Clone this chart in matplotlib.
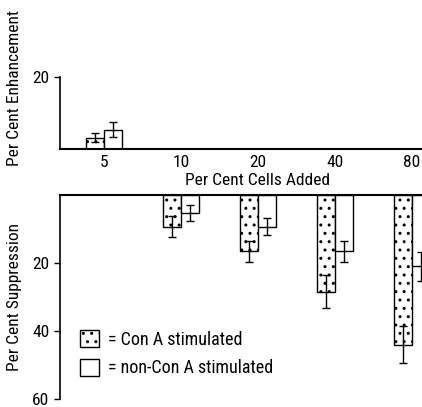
import numpy as np
import matplotlib
matplotlib.use("Agg")
import matplotlib.pyplot as plt
from matplotlib.patches import Patch

plt.rcParams['font.family'] = ['Liberation Sans Narrow', 'Roboto Condensed', 'DejaVu Sans']
plt.rcParams['font.stretch'] = 'condensed'
plt.rcParams['hatch.linewidth'] = 1.0

# per cent cells added (categories)
groups = ['5', '10', '20', '40', '80']

# enhancement (top panel), only at 5%
enh_con = [3.1, np.nan, np.nan, np.nan, np.nan]
enh_con_err = [1.2, np.nan, np.nan, np.nan, np.nan]
enh_non = [5.3, np.nan, np.nan, np.nan, np.nan]
enh_non_err = [2.1, np.nan, np.nan, np.nan, np.nan]

# suppression (bottom panel)
sup_con = [np.nan, 9.4, 16.6, 28.4, 44.0]
sup_con_err = [np.nan, 3.1, 3.2, 4.9, 5.4]
sup_non = [np.nan, 5.2, 9.4, 16.6, 21.0]
sup_non_err = [np.nan, 2.4, 2.5, 3.1, 4.2]

x = np.arange(len(groups))
w = 0.235
xlim = (-0.57, 4.13)
fs = 12.5

fig = plt.figure(figsize=(4.22, 4.07), dpi=100)

# ---- top: enhancement
ax1 = fig.add_axes([0.1422, 0.634, 0.8578, 0.177])
ax1.bar(x - w/2, enh_con, w, color='white', edgecolor='black', hatch='..', linewidth=1)
ax1.bar(x + w/2, enh_non, w, color='white', edgecolor='black', linewidth=1)
ax1.errorbar(x - w/2, enh_con, yerr=enh_con_err, fmt='none', ecolor='black', elinewidth=1, capsize=3)
ax1.errorbar(x + w/2, enh_non, yerr=enh_non_err, fmt='none', ecolor='black', elinewidth=1, capsize=3)
ax1.set_xlim(*xlim)
ax1.set_ylim(0, 20)
ax1.set_yticks([20])
ax1.set_xticks(x)
ax1.set_xticklabels(groups)
ax1.tick_params(axis='x', length=0, pad=4, labelsize=fs)
ax1.tick_params(axis='y', length=4, width=1, labelsize=fs)
ax1.spines['top'].set_visible(False)
ax1.spines['right'].set_visible(False)
ax1.spines['left'].set_linewidth(1.2)
ax1.spines['bottom'].set_linewidth(1.5)
ax1.set_xlabel('Per Cent Cells Added', fontsize=fs)
ax1.xaxis.set_label_coords(0.545, -0.34)
ax1.set_ylabel('Per Cent Enhancement', fontsize=fs)
ax1.yaxis.set_label_coords(-0.105, 0.85)

# ---- bottom: suppression
ax2 = fig.add_axes([0.1422, 0.0197, 0.8578, 0.5012])
ax2.bar(x - w/2, sup_con, w, color='white', edgecolor='black', hatch='..', linewidth=1)
ax2.bar(x + w/2, sup_non, w, color='white', edgecolor='black', linewidth=1)
ax2.errorbar(x - w/2, sup_con, yerr=sup_con_err, fmt='none', ecolor='black', elinewidth=1, capsize=3)
ax2.errorbar(x + w/2, sup_non, yerr=sup_non_err, fmt='none', ecolor='black', elinewidth=1, capsize=3)
ax2.set_xlim(*xlim)
ax2.set_ylim(60, 0)
ax2.set_yticks([20, 40, 60])
ax2.set_xticks([])
ax2.tick_params(axis='y', length=4, width=1, labelsize=fs)
ax2.spines['bottom'].set_visible(False)
ax2.spines['right'].set_visible(False)
ax2.spines['left'].set_linewidth(1.2)
ax2.spines['top'].set_linewidth(1.5)
ax2.set_ylabel('Per Cent Suppression', fontsize=fs)
ax2.yaxis.set_label_coords(-0.105, 0.5)

handles = [Patch(facecolor='white', edgecolor='black', hatch='..', label='= Con A stimulated'),
           Patch(facecolor='white', edgecolor='black', label='= non-Con A stimulated')]
ax2.legend(handles=handles, loc='lower left', bbox_to_anchor=(0.009, 0.026), frameon=False,
           fontsize=13, handlelength=1.1, handleheight=1.1, handletextpad=0.5,
           labelspacing=0.55)

fig.savefig('out.png', dpi=100)
